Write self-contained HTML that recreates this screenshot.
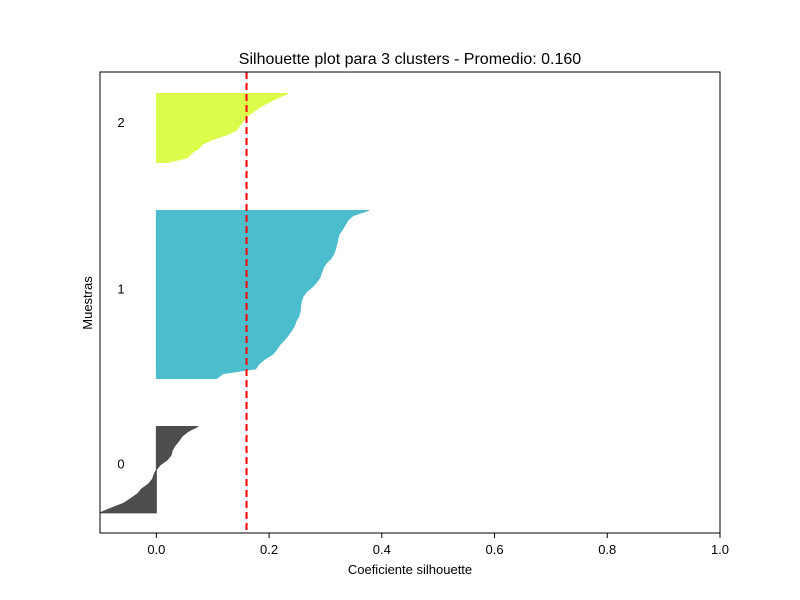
<!DOCTYPE html>
<html><head><meta charset="utf-8"><style>
body{margin:0;background:#fff}
svg{display:block;font-family:"Liberation Sans",sans-serif}
</style></head><body>
<svg id="chart" width="800" height="600">
<rect width="800" height="600" fill="#fff"/>
<text x="410" y="64" font-size="16" text-anchor="middle">Silhouette plot para 3 clusters - Promedio: 0.160</text>
<text x="410" y="574" font-size="13" text-anchor="middle">Coeficiente silhouette</text>
<text x="92" y="303" font-size="13" text-anchor="middle" transform="rotate(-90 92 303)">Muestras</text>
<g id="marks"></g>
<g id="xticks"></g>
<rect x="100" y="72" width="620" height="461" fill="none" stroke="#000" stroke-width="1"/>
</svg>
<script>
const clusterLabels = ["0","1","2"];
const cluster0 = [-0.100,-0.080,-0.058,-0.045,-0.033,-0.026,-0.014,-0.007,-0.004,0.000,0.007,0.019,0.026,0.028,0.033,0.040,0.046,0.057,0.074];
const cluster1 = [0.107,0.118,0.176,0.182,0.192,0.206,0.213,0.219,0.227,0.234,0.240,0.245,0.248,0.253,0.255,0.256,0.257,0.260,0.266,0.276,0.284,0.290,0.293,0.296,0.301,0.310,0.315,0.318,0.320,0.322,0.324,0.330,0.335,0.340,0.350,0.377];
const cluster2 = [0.019,0.055,0.062,0.075,0.082,0.100,0.125,0.142,0.148,0.154,0.160,0.172,0.183,0.198,0.215,0.234];
const avgScore = 0.160;
const xTicks = [0.0,0.2,0.4,0.6,0.8,1.0];
const xTickLabels = ["0.0","0.2","0.4","0.6","0.8","1.0"];

const colors = ["#4d4d4d","#4bbdcc","#dbfc4a"];
const NS = "http://www.w3.org/2000/svg";
const X0 = 100, X1 = 720, XMIN = -0.1, XMAX = 1.0;
const xs = v => X0 + (v - XMIN) / (XMAX - XMIN) * (X1 - X0);
const UNIT = 4.8, BASE = 533, START = 4.2, GAP = 10;
const ys = u => BASE - u * UNIT;
const marks = document.getElementById('marks');
const clusters = [cluster0, cluster1, cluster2];
let lower = START;
clusters.forEach((vals, k) => {
  const n = vals.length;
  const span = (k === 2) ? (n - 1) * 4.6 / UNIT : n - 1;
  const step = span / (n - 1);
  let pts = [xs(0) + "," + ys(lower)];
  vals.forEach((v, i) => pts.push(xs(v) + "," + ys(lower + i * step)));
  pts.push(xs(0) + "," + ys(lower + span));
  const p = document.createElementNS(NS, 'polygon');
  p.setAttribute('points', pts.join(' '));
  p.setAttribute('fill', colors[k]);
  p.setAttribute('stroke', colors[k]);
  p.setAttribute('stroke-width', '1');
  
  
  marks.appendChild(p);
  const t = document.createElementNS(NS, 'text');
  t.setAttribute('x', 121);
  t.setAttribute('y', ys(lower + span / 2) - 1);
  t.setAttribute('font-size', '13');
  t.setAttribute('text-anchor', 'middle');
  t.textContent = clusterLabels[k];
  
  
  marks.appendChild(t);
  lower += span + GAP;
});
const line = document.createElementNS(NS, 'line');
line.setAttribute('x1', xs(avgScore)); line.setAttribute('x2', xs(avgScore));
line.setAttribute('y1', 72); line.setAttribute('y2', 533);
line.setAttribute('stroke', '#ff0000'); line.setAttribute('stroke-width', '2');
line.setAttribute('stroke-dasharray', '7,4');


marks.appendChild(line);
const xt = document.getElementById('xticks');
xTicks.forEach((v, i) => {
  const l = document.createElementNS(NS, 'line');
  l.setAttribute('x1', xs(v)); l.setAttribute('x2', xs(v));
  l.setAttribute('y1', 533); l.setAttribute('y2', 538);
  l.setAttribute('stroke', '#000');
  
  
  xt.appendChild(l);
  const t = document.createElementNS(NS, 'text');
  t.setAttribute('x', xs(v)); t.setAttribute('y', 554);
  t.setAttribute('font-size', '13'); t.setAttribute('text-anchor', 'middle');
  t.textContent = xTickLabels[i];
  
  
  xt.appendChild(t);
});
</script>
</body></html>
